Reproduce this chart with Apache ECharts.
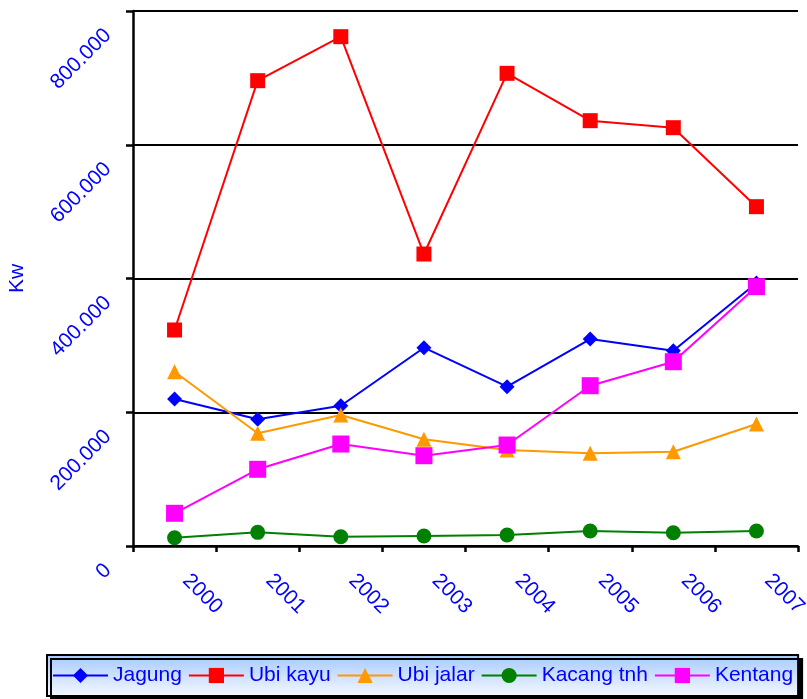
<!DOCTYPE html>
<html>
<head>
<meta charset="utf-8">
<script src="https://cdn.jsdelivr.net/npm/echarts@6/dist/echarts.min.js"></script>
<style>
html,body{margin:0;padding:0;background:#fff;}
#c{width:807px;height:699px;}
</style>
</head>
<body>
<div id="c"></div>
<script>
const categories = ['2000','2001','2002','2003','2004','2005','2006','2007'];
const jagung    = [219800, 189400, 209800, 296500, 238200, 309500, 292000, 393300];
const ubiKayu   = [323000, 695800, 761600, 436600, 706800, 636000, 625500, 507400];
const ubiJalar  = [260600, 168500, 195900, 159500, 143500, 138600, 141000, 182400];
const kacangTnh = [12400, 20400, 13900, 15000, 16400, 22400, 19900, 22400];
const kentang   = [48900, 114700, 152500, 135000, 151000, 239700, 275600, 387800];
const yTicks = { min: 0, max: 800000, interval: 200000 };

const FONT = 'Liberation Sans, Arial, sans-serif';
const BLUE = '#0000FF';

function fmt(v){ return String(v).replace(/\B(?=(\d{3})+(?!\d))/g, '.'); }

function mk(name, data, color, symbol, size){
  return {
    name, type:'line', data, symbol, symbolSize:size,
    lineStyle:{color, width:2}, itemStyle:{color},
    showAllSymbol:true, animation:false
  };
}

const chart = echarts.init(document.getElementById('c'));
chart.setOption({
  animation:false,
  grid:{left:133, right:9, top:11, bottom:153, containLabel:false, outerBoundsMode:'none'},
  legend:{
    left:47, top:655,
    padding:[10,5,10,5],
    itemWidth:55, itemHeight:19, itemGap:6,
    borderColor:'#000', borderWidth:2,
    backgroundColor:{type:'linear', x:0, y:0, x2:0, y2:1,
      colorStops:[{offset:0,color:'#a4c9ff'},{offset:1,color:'#f6f9ff'}]},
    shadowColor:'#000', shadowBlur:0, shadowOffsetX:4, shadowOffsetY:4,
    textStyle:{color:BLUE, fontSize:21, fontFamily:FONT},
    data:['Jagung','Ubi kayu','Ubi jalar','Kacang tnh','Kentang']
  },
  xAxis:{
    type:'category', data:categories, boundaryGap:true,
    axisLine:{lineStyle:{color:'#000', width:2.5}},
    axisTick:{show:true, length:6, inside:false, lineStyle:{color:'#000', width:2.5}},
    axisLabel:{rotate:-45, margin:20, color:BLUE, fontSize:21, fontFamily:FONT, interval:0, hideOverlap:false,
      align:'left', verticalAlign:'middle', padding:[0,0,0,16]}
  },
  yAxis:{
    type:'value', min:yTicks.min, max:yTicks.max, interval:yTicks.interval,
    name:'Kw', nameLocation:'middle', nameRotate:90, nameGap:105, nameMoveOverlap:false,
    nameTextStyle:{color:BLUE, fontSize:21, fontFamily:FONT},
    axisLine:{show:true, lineStyle:{color:'#000', width:2.5}},
    axisTick:{show:true, length:7, lineStyle:{color:'#000', width:2.5}},
    splitLine:{show:true, lineStyle:{color:'#000', width:2}},
    axisLabel:{rotate:45, margin:18, color:BLUE, fontSize:21, fontFamily:FONT, lineHeight:20,
      align:'right', verticalAlign:'middle', padding:[0,20,0,0],
      formatter:function(v){ return '\n' + fmt(v); }, hideOverlap:false}
  },
  series:[
    mk('Jagung', jagung, '#0000FF', 'diamond', 15),
    mk('Ubi kayu', ubiKayu, '#FF0000', 'rect', 15),
    mk('Ubi jalar', ubiJalar, '#FF9900', 'triangle', 15),
    mk('Kacang tnh', kacangTnh, '#008000', 'circle', 15),
    mk('Kentang', kentang, '#FF00FF', 'rect', 17)
  ]
});
</script>
</body>
</html>
